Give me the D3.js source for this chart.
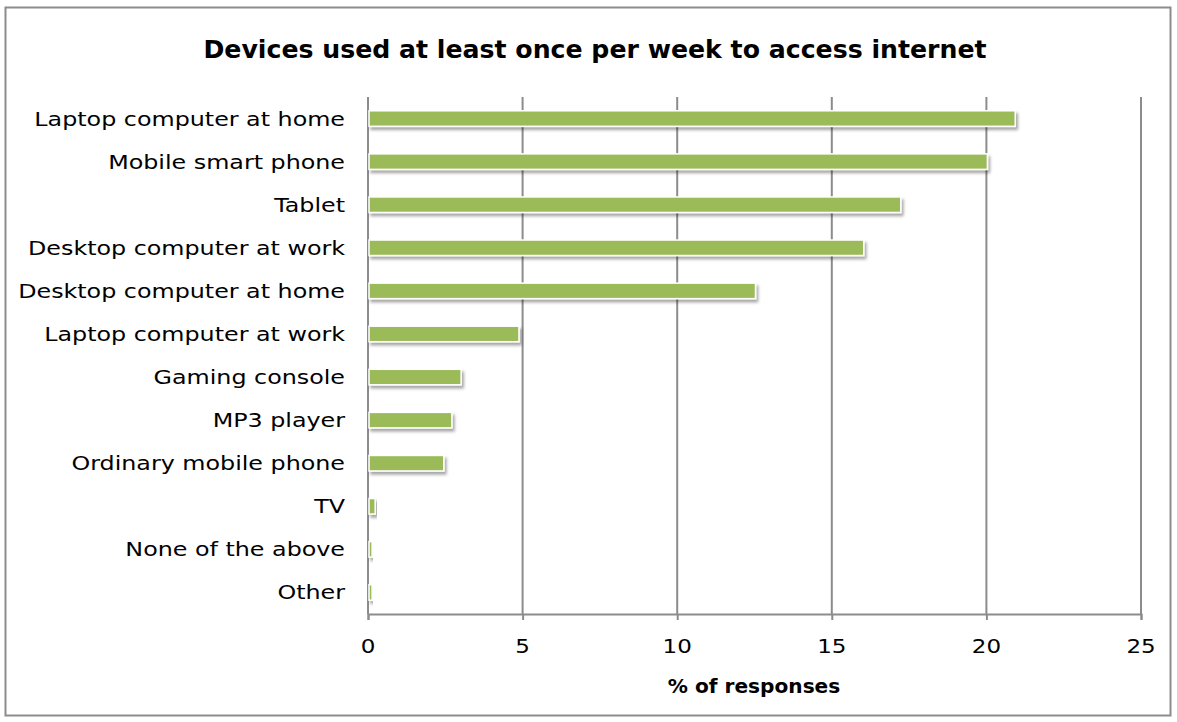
<!DOCTYPE html>
<html>
<head>
<meta charset="utf-8">
<script src="https://cdn.jsdelivr.net/npm/d3@7"></script>
<style>
  body { margin: 0; background: #fff; }
  text { font-family: "DejaVu Sans", sans-serif; fill: #000; }
</style>
</head>
<body>
<svg id="chart" width="1177" height="722"></svg>
<script>
// categories, top to bottom
var devices = [
  "Laptop computer at home",
  "Mobile smart phone",
  "Tablet",
  "Desktop computer at work",
  "Desktop computer at home",
  "Laptop computer at work",
  "Gaming console",
  "MP3 player",
  "Ordinary mobile phone",
  "TV",
  "None of the above",
  "Other"
];
// % of responses
var shares = [20.9, 20.0, 17.2, 16.0, 12.5, 4.85, 2.98, 2.68, 2.42, 0.2, 0.1, 0.1];
var xTicks = [0, 5, 10, 15, 20, 25];

var svg = d3.select("#chart");
var margin = {left: 368, right: 36, top: 97, bottom: 108};
var W = 1177, H = 722;
var grid = "#8c8c8c";

// the original font is much wider than DejaVu, stretch text horizontally
function wideText(g, px, py, sx, anchor) {
  return g.append("text")
    .attr("transform", "translate(" + px + "," + py + ") scale(" + sx + ",1)")
    .attr("dy", "0.35em")
    .attr("text-anchor", anchor);
}

// outer frame
svg.append("rect")
  .attr("x", 5.5).attr("y", 7.5)
  .attr("width", 1165).attr("height", 708)
  .attr("fill", "#fff").attr("stroke", grid).attr("stroke-width", 2);

var defs = svg.append("defs");
var f = defs.append("filter").attr("id", "shadow")
  .attr("x", "-10%").attr("y", "-40%").attr("width", "130%").attr("height", "200%");
f.append("feDropShadow")
  .attr("dx", 2).attr("dy", 3).attr("stdDeviation", 1.8)
  .attr("flood-color", "#000").attr("flood-opacity", 0.35);

var x = d3.scaleLinear().domain([0, 25]).range([margin.left, W - margin.right]);
var y = d3.scaleBand().domain(devices)
  .range([margin.top, H - margin.bottom])
  .paddingInner(0.64).paddingOuter(0.32);

// vertical gridlines
svg.append("g").selectAll("line")
  .data(xTicks)
  .join("line")
  .attr("x1", d => x(d)).attr("x2", d => x(d))
  .attr("y1", margin.top).attr("y2", H - margin.bottom)
  .attr("stroke", grid).attr("stroke-width", 2);

// x axis (labels drawn separately so they can be widened)
var xAxis = svg.append("g")
  .attr("transform", "translate(0," + (H - margin.bottom) + ")")
  .call(d3.axisBottom(x).tickValues(xTicks).tickSize(6).tickFormat(""));
xAxis.select(".domain").attr("stroke", grid).attr("stroke-width", 2);
xAxis.selectAll(".tick line").attr("stroke", grid).attr("stroke-width", 2);

var tickLabels = svg.append("g");
xTicks.forEach(function(t) {
  wideText(tickLabels, x(t), 646, 1.15, "middle")
    .style("font-size", "20px")
    .text(t);
});

// category labels
var yLabels = svg.append("g");
devices.forEach(function(d) {
  wideText(yLabels, 345, y(d) + y.bandwidth() / 2, 1.19, "end")
    .style("font-size", "20px")
    .text(d);
});

// bars
svg.append("g").selectAll("rect")
  .data(shares)
  .join("rect")
  .attr("x", x(0) + 1)
  .attr("y", (d, i) => y(devices[i]))
  .attr("width", d => x(d) - x(0))
  .attr("height", y.bandwidth())
  .attr("fill", "#9bbb59")
  .attr("stroke", "#fff").attr("stroke-width", 1.5)
  .attr("filter", "url(#shadow)");

// title
wideText(svg, 595, 50, 1.05, "middle")
  .style("font-size", "24px").style("font-weight", "bold")
  .text("Devices used at least once per week to access internet");

// axis title
wideText(svg, 754, 686, 1.06, "middle")
  .style("font-size", "19px").style("font-weight", "bold")
  .text("% of responses");
</script>
</body>
</html>
